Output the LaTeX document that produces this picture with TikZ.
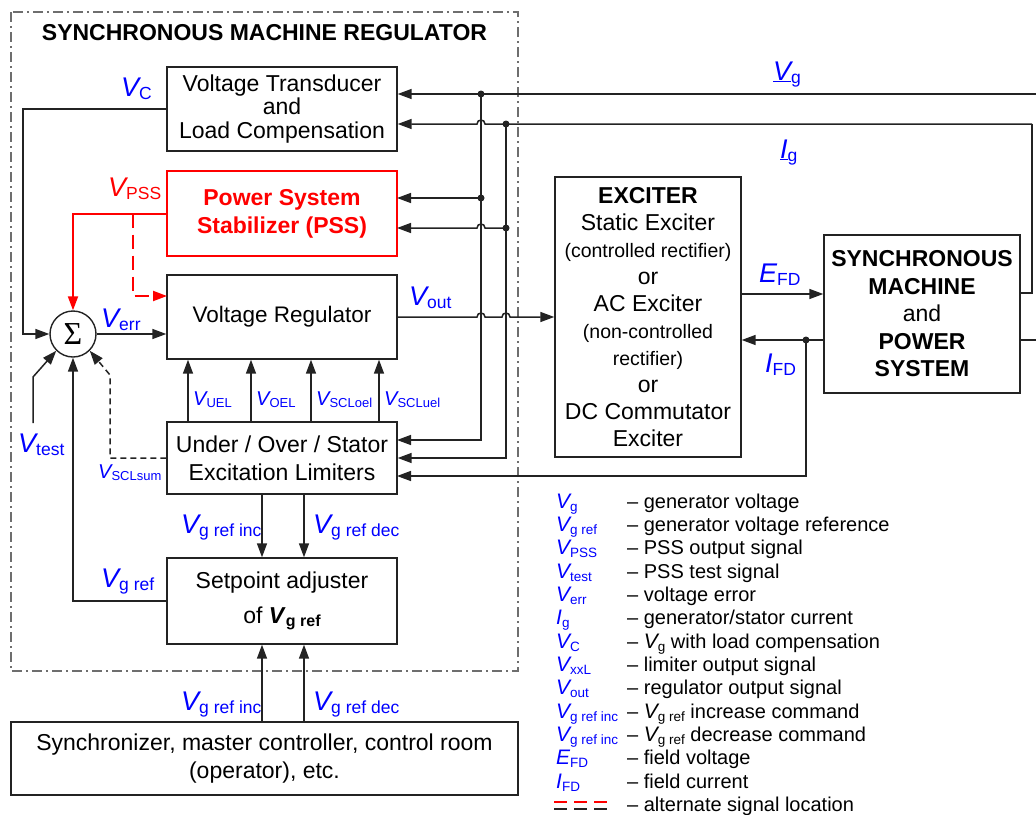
\documentclass[tikz,border=0pt]{standalone}
\usepackage{fontspec}
\setmainfont{Liberation Sans}
\newfontfamily\sigmafont{Liberation Serif}
\usetikzlibrary{arrows.meta,calc}
\definecolor{sigblue}{RGB}{0,0,255}
\definecolor{sigred}{RGB}{255,0,0}
\definecolor{ln}{RGB}{35,35,35}
\definecolor{frm}{RGB}{110,110,110}
\newcommand\sigB[2]{{\fontsize{27}{27}\selectfont\itshape #1}\raisebox{-3pt}{\fontsize{17.5}{17.5}\selectfont #2}}
\newcommand\sigS[2]{{\fontsize{20}{20}\selectfont\itshape #1}\raisebox{-2pt}{\fontsize{13}{13}\selectfont #2}}
\newcommand\sigL[2]{{\fontsize{21}{21}\selectfont\itshape #1}\raisebox{-3pt}{\fontsize{13.5}{13.5}\selectfont #2}}
\tikzset{
  box/.style={draw=ln, line width=1.4pt, inner sep=0pt, align=center, font=\fontsize{23}{27}\selectfont},
  conn/.style={draw=ln, line width=1.5pt},
  redc/.style={draw=sigred, line width=2pt},
  arr/.style={-{Triangle[length=14pt,width=10pt]}},
  jdot/.style={circle, fill=ln, inner sep=0pt, minimum size=7pt},
  lbl/.style={text=sigblue, inner sep=0pt, anchor=base west},
  leg/.style={inner sep=0pt, anchor=base west, font=\fontsize{20}{20}\selectfont},
}
\begin{document}
\begin{tikzpicture}[x=1pt,y=-1pt]
\useasboundingbox (0,0) rectangle (1036,814);
% regulator frame
\draw[frm, line width=1.3pt, dash pattern=on 10pt off 4pt on 2pt off 4pt] (11,12) rectangle (518,671);
\node[inner sep=0pt, anchor=base, font=\bfseries\fontsize{23}{23}\selectfont] (title) at (264.5,40) {SYNCHRONOUS MACHINE REGULATOR};

% blocks
\node[box, minimum width=230pt, minimum height=84pt, font=\fontsize{23}{23.5}\selectfont] (vt) at (282,109) {Voltage Transducer\\and\\Load Compensation};
\node[box, draw=sigred, text=sigred, minimum width=230pt, minimum height=85pt, font=\bfseries\fontsize{23}{28}\selectfont] (pss) at (282,213.5) {Power System\\Stabilizer (PSS)};
\node[box, minimum width=230pt, minimum height=84pt, font=\fontsize{22.5}{27}\selectfont] (vr) at (282,317) {Voltage Regulator};
\node[box, minimum width=230pt, minimum height=72pt, font=\fontsize{23}{28}\selectfont] (lim) at (282,458) {Under / Over / Stator\\Excitation Limiters};
\node[box, minimum width=230pt, minimum height=86pt] (sp) at (282,601) {Setpoint adjuster\\[8pt]of \textbf{\textit{V}}\raisebox{-3pt}{\bfseries\fontsize{16}{16}\selectfont g ref}};
\node[box, minimum width=507pt, minimum height=73pt, font=\fontsize{23}{28}\selectfont] (sync) at (264.5,758.5) {Synchronizer, master controller, control room\\(operator), etc.};
\node[box, minimum width=186pt, minimum height=280pt] (exc) at (648,317) {\textbf{EXCITER}\\Static Exciter\\{\fontsize{19.5}{27}\selectfont (controlled rectifier)}\\or\\AC Exciter\\{\fontsize{19.5}{27}\selectfont (non-controlled}\\{\fontsize{19.5}{27}\selectfont rectifier)}\\or\\DC Commutator\\Exciter};
\node[box, minimum width=196pt, minimum height=158pt, font=\fontsize{23}{27.5}\selectfont] (sm) at (922,314) {\textbf{SYNCHRONOUS}\\\textbf{MACHINE}\\and\\\textbf{POWER}\\\textbf{SYSTEM}};
\node[circle, draw=ln, line width=1.4pt, minimum size=46pt, inner sep=0pt] (sum) at (73,334) {\sigmafont\fontsize{32}{32}\selectfont Σ};

% coordinates
\coordinate (vgR) at (1036,94);
\coordinate (igR) at (1032,124);
\coordinate (j1) at (481,94);
\coordinate (j2) at (506,124);
\coordinate (j3) at (481,198);
\coordinate (j4) at (506,228);
\coordinate (pssA) at (397,198);
\coordinate (pssB) at (397,228);
\coordinate (limA) at (397,440);
\coordinate (limC) at (397,476);
\coordinate (smIg) at (1020,293);
\coordinate (smVg) at (1020,340);
\coordinate (vgE) at (1036,340);
\coordinate (efd) at (741,294);
\coordinate (ifdB) at (824,340);
\coordinate (j5) at (806,340);
\coordinate (vcL) at (23,109);
\coordinate (pssj) at (133,213.5);
\coordinate (altin) at (167,296);
\coordinate (vt0) at (33,423);
\coordinate (vt1) at (33,377);
\coordinate (sc1) at (110,375);
\coordinate (ci) at (262,0);
\coordinate (cd) at (304,0);

% feedback signals from the power system
\draw[conn,arr] (vgR) -- (vgR -| vt.east);
\draw[conn,arr] (igR) -- (485,124) .. controls (485,118.7) and (477,118.7) .. (477,124) -- (igR -| vt.east);
\draw[conn] (smIg) -- (igR |- smIg) -- (igR);
\draw[conn] (smVg) -- (vgE);
\draw[conn,arr] (j3) -- (pssA);
\draw[conn,arr] (j4) -- (485,228) .. controls (485,222.7) and (477,222.7) .. (477,228) -- (pssB);
\draw[conn,arr] (j1) |- (limA);
\draw[conn,arr] (j2) |- (lim.east);
\node[jdot] at (j1) {};
\node[jdot] at (j2) {};
\node[jdot] at (j3) {};
\node[jdot] at (j4) {};

% regulator output
\draw[conn,arr] (vr.east) -- (477,317) .. controls (477,311.7) and (485,311.7) .. (485,317) -- (502,317) .. controls (502,311.7) and (510,311.7) .. (510,317) -- (exc.west);

% exciter / machine
\draw[conn,arr] (efd) -- (efd -| sm.west);
\draw[conn,arr] (ifdB) -- (ifdB -| exc.east);
\draw[conn,arr] (j5) |- (limC);
\node[jdot] at (j5) {};

% summing junction inputs
\draw[conn,arr] (vt.west) -- (vcL) |- (sum.west);
\draw[redc,arr] (pss.west) -| (sum.north);
\draw[redc,arr,dash pattern=on 14pt off 7pt] (pssj) |- (altin);
\draw[conn,arr] (sum.east) -- (sum.east -| vr.west);
\draw[conn,arr] (vt0) -- (vt1) -- (sum.225);
\draw[conn,arr,dash pattern=on 6pt off 4pt] (lim.west) -- (lim.west -| sc1) -- (sc1) -- (sum.-45);
\draw[conn,arr] (sp.west) -| (sum.south);

% limiters to regulator
\foreach \xx/\nm in {188/a,251/b,311/c,379/d}{
  \coordinate (up\nm) at (\xx,0);
  \draw[conn,arr] (lim.north -| up\nm) -- (vr.south -| up\nm);
}
% setpoint commands
\draw[conn,arr] (lim.south -| ci) -- (sp.north -| ci);
\draw[conn,arr] (lim.south -| cd) -- (sp.north -| cd);
\draw[conn,arr] (sync.north -| ci) -- (sp.south -| ci);
\draw[conn,arr] (sync.north -| cd) -- (sp.south -| cd);

% labels
\node[lbl] at (773,80) {\sigB{\underline{V}}{g}};
\node[lbl] at (780,158) {\sigB{\underline{I}}{g}};
\node[lbl] at (121,96) {\sigB{V}{C}};
\node[lbl, text=sigred] at (108,196) {\sigB{V}{PSS}};
\node[lbl] at (101,327) {\sigB{V}{err}};
\node[lbl] at (409,305) {\sigB{V}{out}};
\node[lbl] at (18,452) {\sigB{V}{test}};
\node[lbl] at (98,478) {\sigS{V}{SCLsum}};
\node[lbl] at (193,405) {\sigS{V}{UEL}};
\node[lbl] at (256,405) {\sigS{V}{OEL}};
\node[lbl] at (316,405) {\sigS{V}{SCLoel}};
\node[lbl] at (384,405) {\sigS{V}{SCLuel}};
\node[lbl] at (101,587) {\sigB{V}{g ref}};
\node[lbl] at (181,533) {\sigB{V}{g ref inc}};
\node[lbl] at (313,533) {\sigB{V}{g ref dec}};
\node[lbl] at (181,710) {\sigB{V}{g ref inc}};
\node[lbl] at (313,710) {\sigB{V}{g ref dec}};
\node[lbl] at (759,282) {\sigB{E}{FD}};
\node[lbl] at (765,372) {\sigB{I}{FD}};

% legend
\node[lbl] (s1) at (556,508) {\sigL{V}{g}};
\node[leg] (t1) at (627,508) {– generator voltage};
\node[lbl] (s2) at (556,531.35) {\sigL{V}{g ref}};
\node[leg] (t2) at (627,531.35) {– generator voltage reference};
\node[lbl] (s3) at (556,554.7) {\sigL{V}{PSS}};
\node[leg] (t3) at (627,554.7) {– PSS output signal};
\node[lbl] (s4) at (556,578.05) {\sigL{V}{test}};
\node[leg] (t4) at (627,578.05) {– PSS test signal};
\node[lbl] (s5) at (556,601.4) {\sigL{V}{err}};
\node[leg] (t5) at (627,601.4) {– voltage error};
\node[lbl] (s6) at (556,624.75) {\sigL{I}{g}};
\node[leg] (t6) at (627,624.75) {– generator/stator current};
\node[lbl] (s7) at (556,648.1) {\sigL{V}{C}};
\node[leg] (t7) at (627,648.1) {– \sigL{V}{g} with load compensation};
\node[lbl] (s8) at (556,671.45) {\sigL{V}{xxL}};
\node[leg] (t8) at (627,671.45) {– limiter output signal};
\node[lbl] (s9) at (556,694.8) {\sigL{V}{out}};
\node[leg] (t9) at (627,694.8) {– regulator output signal};
\node[lbl] (s10) at (556,718.15) {\sigL{V}{g ref inc}};
\node[leg] (t10) at (627,718.15) {– \sigL{V}{g ref} increase command};
\node[lbl] (s11) at (556,741.5) {\sigL{V}{g ref inc}};
\node[leg] (t11) at (627,741.5) {– \sigL{V}{g ref} decrease command};
\node[lbl] (s12) at (556,764.85) {\sigL{E}{FD}};
\node[leg] (t12) at (627,764.85) {– field voltage};
\node[lbl] (s13) at (556,788.2) {\sigL{I}{FD}};
\node[leg] (t13) at (627,788.2) {– field current};
\draw[sigred, line width=2pt, dash pattern=on 12.7pt off 7.3pt] (554,802) -- (607,802);
\draw[ln, line width=1.5pt, dash pattern=on 12.7pt off 7.3pt] (554,809) -- (607,809);
\node[leg] (t14) at (627,811.55) {– alternate signal location};
\end{tikzpicture}
\end{document}
